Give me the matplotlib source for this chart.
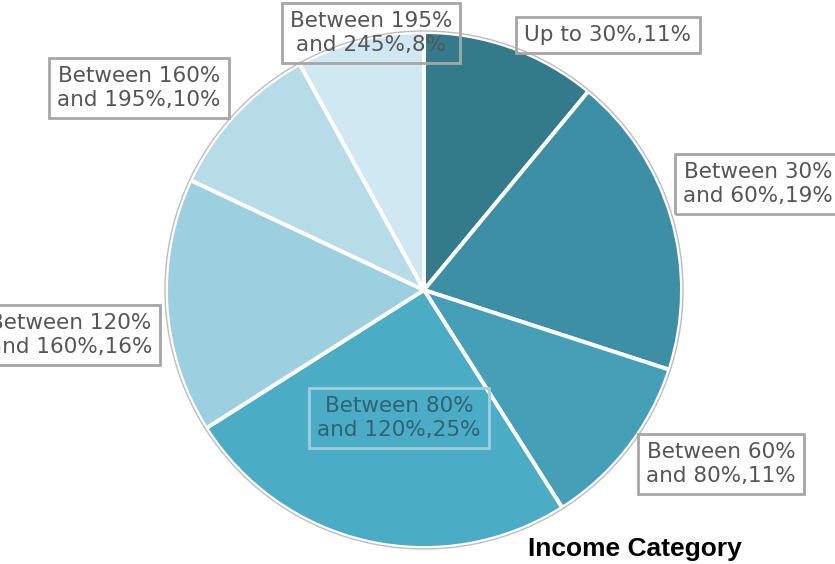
import matplotlib
matplotlib.use("Agg")
from matplotlib import pyplot as plt
from matplotlib.patches import Circle

categories = ["Up to 30%", "Between 30%\nand 60%", "Between 60%\nand 80%",
              "Between 80%\nand 120%", "Between 120%\nand 160%",
              "Between 160%\nand 195%", "Between 195%\nand 245%"]
shares = [11, 19, 11, 25, 16, 10, 8]
colors = ["#337a8b", "#3d8fa5", "#459fb6", "#4bacc6", "#9dd0df", "#b6dce8", "#d0e8f1"]

# label anchor points in pixel coords (top-down), with alignment
label_pos = [(608, 35, "center"), (683, 184, "left"), (721, 464, "center"),
             (399, 418, "center"), (152, 335, "right"), (139, 88, "center"),
             (371, 33, "center")]

W, H = 835, 564
fig = plt.figure(figsize=(W / 100, H / 100), dpi=100)
ax = fig.add_axes([0, 0, 1, 1])

cx, cy, r = 424, 290, 258
ax.pie(shares, colors=colors, startangle=90, counterclock=False,
       radius=r, center=(cx, H - cy),
       wedgeprops=dict(edgecolor="white", linewidth=2.8))
ax.add_patch(Circle((cx, H - cy), r + 1, fill=False, edgecolor="#bdbdbd", lw=1.0, zorder=5))

for cat, val, (x, y, ha) in zip(categories, shares, label_pos):
    inside = val == 25
    ax.text(x, H - y, f"{cat},{val}%", ha=ha, va="center", multialignment="center",
            fontsize=15.5, family="DejaVu Sans", linespacing=1.25,
            color="#2e6373" if inside else "#555555", zorder=6,
            bbox=dict(boxstyle="square,pad=0.38", facecolor="none",
                      edgecolor="#9fcfdc" if inside else "#a6a6a6", lw=2))

ax.text(635, H - 549, "Income Category", ha="center", va="center",
        fontsize=19, fontweight="bold", family="Liberation Sans", color="black")

ax.set_xlim(0, W)
ax.set_ylim(0, H)
ax.set_aspect("equal")
ax.axis("off")
fig.savefig("out.png", dpi=100, facecolor="white")
